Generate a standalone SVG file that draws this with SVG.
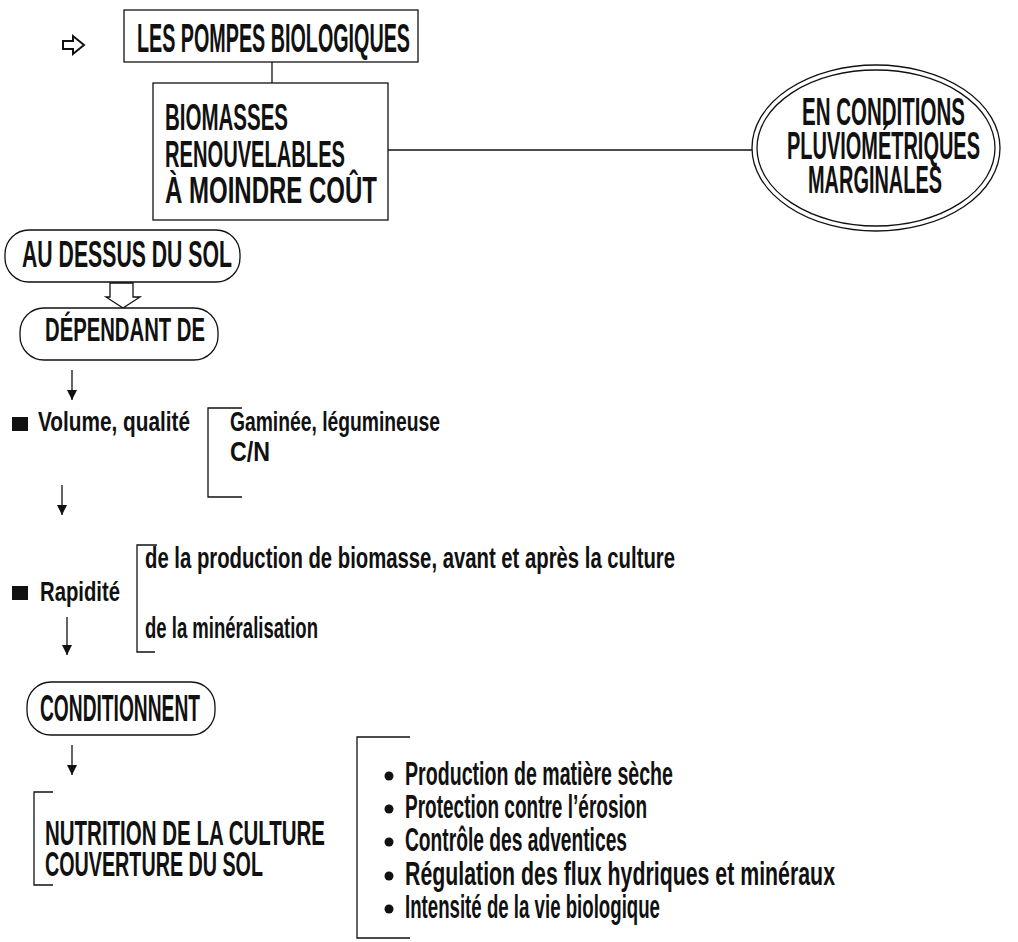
<svg xmlns="http://www.w3.org/2000/svg" width="1018" height="942" viewBox="0 0 1018 942">
<style>
  .t{font-family:"Liberation Sans Narrow","Liberation Sans",Arial,sans-serif;font-weight:bold;fill:#111;}
  .ln{stroke:#111;stroke-width:1.3;fill:none;}
  .box{stroke:#111;stroke-width:1.3;fill:#fff;}
</style>
<defs>
  <marker id="ah" viewBox="0 0 10 10" refX="10" refY="5" markerWidth="10" markerHeight="11" markerUnits="userSpaceOnUse" orient="auto">
    <path d="M0,0 L10,5 L0,10 Z" fill="#111"/>
  </marker>
</defs>
<rect width="1018" height="942" fill="#fff"/>

<g id="connectors">
  <line class="ln" x1="272" y1="62" x2="272" y2="83"/>
  <line class="ln" x1="388" y1="150" x2="752" y2="150"/>
  <path class="ln" d="M110,283 L110,297 L106,297 L123,308 L140,297 L133,297 L133,283 Z" style="fill:#fff"/>
  <line class="ln" x1="72" y1="370" x2="72" y2="400" marker-end="url(#ah)"/>
  <line class="ln" x1="62" y1="485" x2="62" y2="515" marker-end="url(#ah)"/>
  <line class="ln" x1="67" y1="617" x2="67" y2="655" marker-end="url(#ah)"/>
  <line class="ln" x1="72" y1="745" x2="72" y2="775" marker-end="url(#ah)"/>
</g>

<g id="title-arrow">
  <path class="ln" d="M63,41 L73,41 L73,36 L84,45 L73,54 L73,49 L63,49 Z" style="stroke-width:2"/>
</g>

<g id="les-pompes">
  <rect class="box" x="124" y="10" width="294" height="52"/>
  <text class="t" x="137" y="52" font-size="40" textLength="273" lengthAdjust="spacingAndGlyphs">LES POMPES BIOLOGIQUES</text>
</g>

<g id="biomasses">
  <rect class="box" x="153" y="83" width="235" height="137"/>
  <text class="t" x="165" y="130" font-size="37" textLength="123" lengthAdjust="spacingAndGlyphs">BIOMASSES</text>
  <text class="t" x="165" y="167" font-size="37" textLength="180" lengthAdjust="spacingAndGlyphs">RENOUVELABLES</text>
  <text class="t" x="165" y="203" font-size="37" textLength="212" lengthAdjust="spacingAndGlyphs">À MOINDRE COÛT</text>
</g>

<g id="conditions">
  <ellipse class="box" cx="876" cy="148" rx="124" ry="83"/>
  <ellipse class="ln" cx="876" cy="148" rx="119" ry="78"/>
  <text class="t" x="802" y="125" font-size="38" textLength="163" lengthAdjust="spacingAndGlyphs">EN CONDITIONS</text>
  <text class="t" x="787" y="159" font-size="38" textLength="193" lengthAdjust="spacingAndGlyphs">PLUVIOMÉTRIQUES</text>
  <text class="t" x="808" y="193" font-size="38" textLength="134" lengthAdjust="spacingAndGlyphs">MARGINALES</text>
</g>

<g id="au-dessus">
  <rect class="box" x="5" y="230" width="235" height="52" rx="24" ry="24"/>
  <text class="t" x="22" y="267" font-size="36" textLength="210" lengthAdjust="spacingAndGlyphs">AU DESSUS DU SOL</text>
</g>

<g id="dependant">
  <rect class="box" x="20" y="308" width="198" height="52" rx="24" ry="24"/>
  <text class="t" x="45" y="341" font-size="33" textLength="160" lengthAdjust="spacingAndGlyphs">DÉPENDANT DE</text>
</g>

<g id="volume">
  <rect x="12" y="417" width="16" height="14" fill="#111"/>
  <text class="t" x="38" y="431" font-size="28" textLength="152" lengthAdjust="spacingAndGlyphs">Volume, qualité</text>
  <path class="ln" d="M242,408 L208,408 L208,497 L242,497"/>
  <text class="t" x="230" y="431" font-size="28" textLength="210" lengthAdjust="spacingAndGlyphs">Gaminée, légumineuse</text>
  <text class="t" x="230" y="461" font-size="28" textLength="40" lengthAdjust="spacingAndGlyphs">C/N</text>
</g>

<g id="rapidite">
  <rect x="12" y="586" width="16" height="14" fill="#111"/>
  <text class="t" x="40" y="601" font-size="28" textLength="80" lengthAdjust="spacingAndGlyphs">Rapidité</text>
  <path class="ln" d="M157,545 L137,545 L137,652 L155,652"/>
  <text class="t" x="145" y="568" font-size="29" textLength="530" lengthAdjust="spacingAndGlyphs">de la production de biomasse, avant  et  après la culture</text>
  <text class="t" x="145" y="638" font-size="29" textLength="173" lengthAdjust="spacingAndGlyphs">de la minéralisation</text>
</g>

<g id="conditionnent">
  <rect class="box" x="27" y="682" width="188" height="53" rx="24" ry="24"/>
  <text class="t" x="40" y="721" font-size="36" textLength="160" lengthAdjust="spacingAndGlyphs">CONDITIONNENT</text>
</g>

<g id="nutrition">
  <path class="ln" d="M53,792 L34,792 L34,885 L53,885"/>
  <text class="t" x="45" y="845" font-size="35" textLength="280" lengthAdjust="spacingAndGlyphs">NUTRITION DE LA CULTURE</text>
  <text class="t" x="45" y="876" font-size="35" textLength="218" lengthAdjust="spacingAndGlyphs">COUVERTURE DU SOL</text>
</g>

<g id="effets">
  <path class="ln" d="M410,737 L357,737 L357,938 L410,938"/>
  <circle cx="389" cy="776" r="4.5" fill="#111"/>
  <circle cx="389" cy="809" r="4.5" fill="#111"/>
  <circle cx="389" cy="842" r="4.5" fill="#111"/>
  <circle cx="389" cy="876" r="4.5" fill="#111"/>
  <circle cx="389" cy="909" r="4.5" fill="#111"/>
  <text class="t" x="405" y="785" font-size="33" textLength="268" lengthAdjust="spacingAndGlyphs">Production de matière sèche</text>
  <text class="t" x="405" y="818" font-size="33" textLength="242" lengthAdjust="spacingAndGlyphs">Protection contre l’érosion</text>
  <text class="t" x="405" y="851" font-size="33" textLength="222" lengthAdjust="spacingAndGlyphs">Contrôle des adventices</text>
  <text class="t" x="405" y="885" font-size="33" textLength="430" lengthAdjust="spacingAndGlyphs">Régulation des flux hydriques et minéraux</text>
  <text class="t" x="405" y="918" font-size="33" textLength="255" lengthAdjust="spacingAndGlyphs">Intensité de la vie biologique</text>
</g>
</svg>
